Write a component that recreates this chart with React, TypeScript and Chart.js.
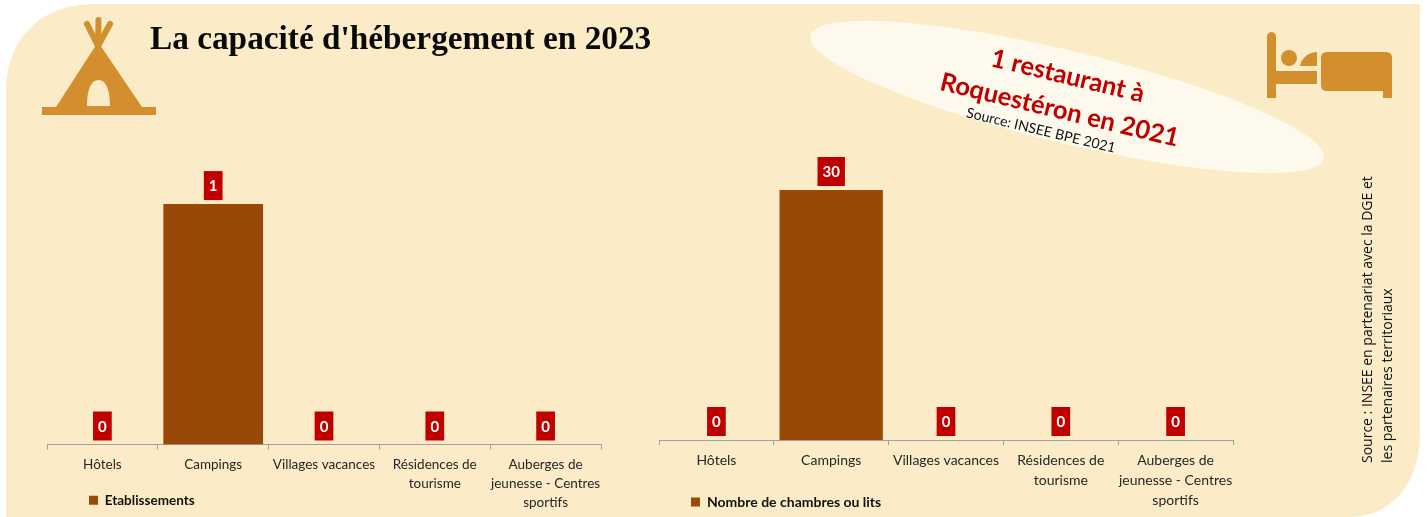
import React, { useEffect, useRef } from "react";
import { Chart, registerables } from "chart.js";

Chart.register(...registerables);

const categories: (string | string[])[] = [
  "Hôtels",
  "Campings",
  "Villages vacances",
  ["Résidences de", "tourisme"],
  ["Auberges de", "jeunesse - Centres", "sportifs"],
];
const etablissements = [0, 1, 0, 0, 0];
const chambresLits = [0, 30, 0, 0, 0];
const seriesLeft = "Etablissements";
const seriesRight = "Nombre de chambres ou lits";

const BAR = "#984807";
const RED = "#C00000";
const ICON = "#D38F2D";
const BG = "#FBECC7";
const W = 1427;
const H = 517;
const RIGHT_EDGE = 1420;

const valueLabels = {
  id: "valueLabels",
  afterDatasetsDraw(chart: any) {
    const ctx = chart.ctx;
    const meta = chart.getDatasetMeta(0);
    const data = chart.data.datasets[0].data;
    ctx.save();
    ctx.font = "bold 15px Lato";
    ctx.textAlign = "center";
    ctx.textBaseline = "middle";
    meta.data.forEach((bar: any, i: number) => {
      const text = String(data[i]);
      const w = ctx.measureText(text).width + 10;
      const h = 29;
      const bottom = bar.y - 4;
      ctx.fillStyle = RED;
      ctx.fillRect(bar.x - w / 2, bottom - h, w, h);
      ctx.fillStyle = "#FFFFFF";
      ctx.fillText(text, bar.x, bottom - h / 2 + 1);
    });
    ctx.restore();
  },
};

// Moves the legend after layout and lets the tick labels run past the short axis box.
const layoutFix = (left: number, dy: number) => ({
  id: "layoutFix",
  afterLayout(chart: any) {
    const l = chart.legend;
    const w = l.right - l.left;
    l.left = left;
    l.right = left + w;
    l.top += dy;
    l.bottom += dy;
    chart.scales.x.bottom = H;
  },
});

function makeChart(
  canvas: HTMLCanvasElement,
  label: string,
  values: number[],
  yMax: number,
  plotLeft: number,
  plotRight: number,
  plotTop: number,
  axisHeight: number,
  legendLeft: number,
  legendDy: number,
  fontSize: number,
  legendSize: number
) {
  return new Chart(canvas, {
    type: "bar",
    data: {
      labels: categories as any,
      datasets: [
        {
          label,
          data: values,
          backgroundColor: BAR,
          barPercentage: 0.9,
          categoryPercentage: 1,
        },
      ],
    },
    options: {
      animation: false,
      responsive: false,
      maintainAspectRatio: false,
      layout: {
        padding: { left: plotLeft, right: W - plotRight, top: plotTop, bottom: 0 },
      },
      scales: {
        x: {
          grid: {
            display: true,
            drawOnChartArea: false,
            drawTicks: true,
            tickLength: 5,
            color: "#A0A0A0",
          },
          border: { color: "#A0A0A0", width: 1 },
          ticks: {
            color: "#262626",
            font: { family: "Lato", size: fontSize, lineHeight: 1.4 },
            maxRotation: 0,
            minRotation: 0,
            autoSkip: false,
            padding: 6,
          },
          afterFit(scale: any) {
            scale.height = axisHeight;
          },
        },
        y: { display: false, min: 0, max: yMax, grid: { display: false } },
      },
      plugins: {
        title: { display: false },
        tooltip: { enabled: false },
        legend: {
          display: true,
          position: "bottom",
          align: "start",
          labels: {
            color: "#111111",
            boxWidth: 9,
            boxHeight: 9,
            padding: 0,
            font: { family: "Lato", size: legendSize, weight: "bold" },
          },
        },
      },
    } as any,
    plugins: [valueLabels, layoutFix(legendLeft, legendDy)],
  });
}

const abs = (s: React.CSSProperties): React.CSSProperties => ({ position: "absolute", ...s });

export default function App() {
  const leftRef = useRef<HTMLCanvasElement>(null);
  const rightRef = useRef<HTMLCanvasElement>(null);

  useEffect(() => {
    document.body.style.margin = "0";
    document.body.style.background = "#FFFFFF";
    const a = makeChart(leftRef.current!, seriesLeft, etablissements, 1.2, 47, 601, 156, 49, 89, 0, 13.5, 13.5);
    const b = makeChart(rightRef.current!, seriesRight, chambresLits, 36, 659, 1233, 140, 53, 691, 2, 14, 14);
    return () => {
      a.destroy();
      b.destroy();
    };
  }, []);

  return (
    <div style={{ position: "relative", width: W, height: H, overflow: "hidden" }}>
      <svg width={W} height={H} style={abs({ left: 0, top: 0 })}>
        <path
          d={`M6 ${H} V90 C6 40 40 4 94 4 H${RIGHT_EDGE} V434 C${RIGHT_EDGE} 482 1392 ${H} 1350 ${H} Z`}
          fill={BG}
        />
        <ellipse cx={1067} cy={97} rx={264} ry={46} transform="rotate(13.5 1067 97)" fill="#FDF9EC" />
        {/* tent */}
        <g fill={ICON}>
          <path d="M42 107 H156 V115 H42 Z" />
          <path
            fillRule="evenodd"
            d="M98 42 L142 107 L56 107 Z M87 106 H110 C110 90 106 80 98.5 80 C91 80 87 90 87 106 Z"
          />
        </g>
        <g stroke={ICON} strokeWidth={6} strokeLinecap="round" fill="none">
          <path d="M98 46 L87 24" />
          <path d="M98 46 L98.5 20" />
          <path d="M98 46 L110 24" />
        </g>
        {/* bed */}
        <g fill={ICON}>
          <path d="M1271.5 32 A4.5 4.5 0 0 1 1276 36.5 V71 H1317 V84 H1276 V98 H1267 V36.5 A4.5 4.5 0 0 1 1271.5 32 Z" />
          <circle cx={1289} cy={58} r={8} />
          <path d="M1300 66 C1301 59 1308 52 1317 52 V66 Z" />
          <path d="M1327 52 H1386 Q1392 52 1392 58 V98 H1383 V91 H1327 Q1321 91 1321 85 V58 Q1321 52 1327 52 Z" />
        </g>
      </svg>
      <canvas ref={leftRef} width={W} height={H} style={abs({ left: 0, top: 0 })} />
      <canvas ref={rightRef} width={W} height={H} style={abs({ left: 0, top: 0 })} />
      <div
        style={abs({
          left: 150,
          top: 19,
          font: "bold 33.3px 'Liberation Serif'",
          color: "#0A0A0A",
          whiteSpace: "nowrap",
        })}
      >
        La capacité d'hébergement en 2023
      </div>
      <div
        style={abs({
          left: 1064,
          top: 95,
          width: 320,
          marginLeft: -160,
          marginTop: -38,
          transform: "rotate(13.5deg)",
          font: "bold 25.5px/35px Lato",
          color: RED,
          textAlign: "center",
        })}
      >
        1 restaurant à
        <br />
        Roquestéron en 2021
      </div>
      <div
        style={abs({
          left: 1041,
          top: 130,
          width: 200,
          marginLeft: -100,
          marginTop: -9,
          transform: "rotate(13.5deg)",
          font: "14px/18px Lato",
          color: "#111111",
          textAlign: "center",
        })}
      >
        Source: INSEE BPE 2021
      </div>
      <div
        style={abs({
          left: 1357,
          top: 463,
          width: 320,
          transformOrigin: "0 0",
          transform: "rotate(-90deg)",
          font: "14px/20px 'Open Sans'",
          color: "#111111",
          whiteSpace: "nowrap",
        })}
      >
        Source : INSEE en partenariat avec la DGE et
        <br />
        les partenaires territoriaux
      </div>
    </div>
  );
}
